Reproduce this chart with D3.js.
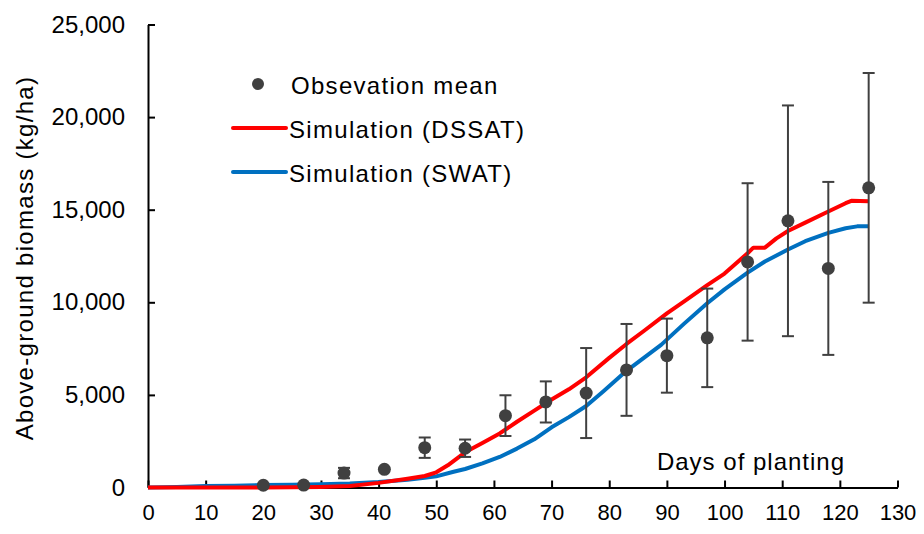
<!DOCTYPE html>
<html>
<head>
<meta charset="utf-8">
<script src="https://cdn.jsdelivr.net/npm/d3@7"></script>
<style>
  body { margin: 0; background: #fff; }
  svg { display: block; font-family: Arial, "Liberation Sans", sans-serif; }
</style>
</head>
<body>
<svg id="chart" width="924" height="534"></svg>
<script>
// observations: day, mean, +/- error
var obsDays = [20, 27, 34, 41, 48, 55, 62, 69, 76, 83, 90, 97, 104, 111, 118, 125];
var obsMean = [120, 130, 780, 980, 2150, 2120, 3880, 4620, 5100, 6350, 7120, 8080, 12180, 14400, 11830, 16180];
var obsErr  = [0, 0, 280, 0, 550, 470, 1100, 1110, 2430, 2480, 2000, 2660, 4250, 6230, 4670, 6200];

// simulated curves
var dssatDays = [0, 5, 10, 15, 20, 25, 30, 35, 40, 45, 48, 50, 52, 55, 58, 61, 64, 67, 70, 73, 76, 80, 83, 86, 90, 93, 97, 100, 104, 105, 107, 109, 111, 114, 118, 121, 122, 125];
var dssatVals = [0, 0, 0, 0, 0, 10, 30, 80, 250, 470, 620, 820, 1200, 1900, 2400, 2920, 3550, 4150, 4750, 5300, 5950, 7000, 7750, 8450, 9400, 10050, 10930, 11550, 12650, 12950, 12950, 13450, 13850, 14300, 14900, 15350, 15480, 15450];

var swatDays = [0, 5, 10, 15, 20, 25, 30, 35, 40, 45, 48, 50, 53, 55, 58, 61, 64, 67, 70, 73, 76, 79, 83, 86, 89, 93, 97, 100, 104, 107, 111, 114, 118, 121, 123, 125];
var swatVals = [0, 30, 80, 100, 130, 150, 180, 220, 300, 420, 520, 600, 850, 1000, 1300, 1650, 2100, 2600, 3250, 3800, 4400, 5200, 6300, 7000, 7700, 8850, 9950, 10700, 11600, 12200, 12850, 13300, 13750, 14000, 14100, 14100];

var xTicks = d3.range(0, 131, 10);
var yTicks = [0, 5000, 10000, 15000, 20000, 25000];

var svg = d3.select("#chart");
var plot = { left: 148, right: 897.5, top: 24.5, bottom: 487.5 };

var x = d3.scaleLinear().domain([0, 130]).range([plot.left, plot.right]);
var y = d3.scaleLinear().domain([0, 25000]).range([plot.bottom, plot.top]);

// axes
var xAxis = svg.append("g")
  .attr("transform", "translate(0," + plot.bottom + ")")
  .call(d3.axisBottom(x).tickValues(xTicks).tickSizeInner(-7).tickSizeOuter(0).tickPadding(25));
var yAxis = svg.append("g")
  .attr("transform", "translate(" + plot.left + ",0)")
  .call(d3.axisLeft(y).tickValues(yTicks).tickSizeInner(-7).tickSizeOuter(0).tickPadding(23)
        .tickFormat(d3.format(",")));

[xAxis, yAxis].forEach(function(a) {
  a.select(".domain").attr("stroke", "#000").attr("stroke-width", 2);
  a.selectAll(".tick line").attr("stroke", "#000").attr("stroke-width", 2);
  a.selectAll(".tick text").attr("fill", "#000");
});
xAxis.selectAll(".tick text").style("font-size", "22px").attr("dy", "0.35em");
yAxis.selectAll(".tick text").style("font-size", "24px");

// axis titles
svg.append("text")
  .attr("transform", "translate(24,258) rotate(-90)")
  .attr("text-anchor", "middle")
  .attr("dominant-baseline", "central")
  .style("font-size", "24px")
  .style("letter-spacing", "1.3px")
  .text("Above-ground biomass (kg/ha)");

svg.append("text")
  .attr("x", 751)
  .attr("y", 461)
  .attr("text-anchor", "middle")
  .attr("dominant-baseline", "central")
  .style("font-size", "24px")
  .style("letter-spacing", "1px")
  .text("Days of planting");

// lines
var line = d3.line()
  .x(function(d) { return x(d[0]); })
  .y(function(d) { return y(d[1]); });

svg.append("path")
  .datum(d3.zip(swatDays, swatVals))
  .attr("fill", "none")
  .attr("stroke", "#0070C0")
  .attr("stroke-width", 4)
  .attr("stroke-linejoin", "round")
  .attr("d", line);

svg.append("path")
  .datum(d3.zip(dssatDays, dssatVals))
  .attr("fill", "none")
  .attr("stroke", "#FF0000")
  .attr("stroke-width", 4)
  .attr("stroke-linejoin", "round")
  .attr("d", line);

// observations with error bars
var obs = obsDays.map(function(d, i) { return { day: d, mean: obsMean[i], err: obsErr[i] }; });
var grey = "#404040";

var bars = svg.append("g").selectAll("g")
  .data(obs.filter(function(d) { return d.err > 0; }))
  .enter().append("g")
  .attr("stroke", grey)
  .attr("stroke-width", 2);

bars.append("line")
  .attr("x1", function(d) { return x(d.day); })
  .attr("x2", function(d) { return x(d.day); })
  .attr("y1", function(d) { return y(d.mean - d.err); })
  .attr("y2", function(d) { return y(d.mean + d.err); });
[-1, 1].forEach(function(s) {
  bars.append("line")
    .attr("x1", function(d) { return x(d.day) - 6; })
    .attr("x2", function(d) { return x(d.day) + 6; })
    .attr("y1", function(d) { return y(d.mean + s * d.err); })
    .attr("y2", function(d) { return y(d.mean + s * d.err); });
});

svg.append("g").selectAll("circle")
  .data(obs)
  .enter().append("circle")
  .attr("cx", function(d) { return x(d.day); })
  .attr("cy", function(d) { return y(d.mean); })
  .attr("r", 6.5)
  .attr("fill", grey);

// legend
var legend = svg.append("g").style("font-size", "24px").style("letter-spacing", "1.3px");
legend.append("circle").attr("cx", 258).attr("cy", 84).attr("r", 6).attr("fill", grey);
legend.append("line").attr("x1", 233).attr("x2", 286).attr("y1", 128).attr("y2", 128)
  .attr("stroke", "#FF0000").attr("stroke-width", 4).attr("stroke-linecap", "round");
legend.append("line").attr("x1", 233).attr("x2", 286).attr("y1", 172).attr("y2", 172)
  .attr("stroke", "#0070C0").attr("stroke-width", 4).attr("stroke-linecap", "round");
var labels = ["Obsevation mean", "Simulation (DSSAT)", "Simulation (SWAT)"];
legend.selectAll("text")
  .data(labels)
  .enter().append("text")
  .attr("x", function(d, i) { return i === 0 ? 291 : 289; })
  .attr("y", function(d, i) { return 85 + i * 44; })
  .attr("dominant-baseline", "central")
  .text(function(d) { return d; });
</script>
</body>
</html>
